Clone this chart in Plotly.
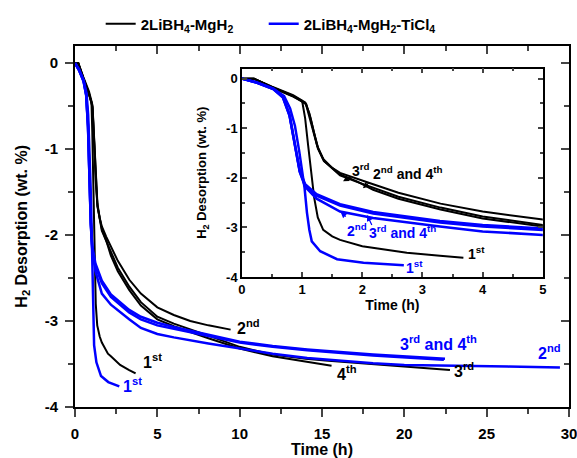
import plotly.graph_objects as go

# ---------------- data (time in h, H2 desorption in wt. %) ----------------
# 2LiBH4-MgH2 (black)
k1_t = [0, 0.2, 0.5, 0.85, 1.0, 1.05, 1.1, 1.15, 1.2, 1.26, 1.35, 1.5, 1.63, 2.0, 2.18, 2.74, 3.29, 3.68]
k1_y = [0, 0, -0.17, -0.35, -0.45, -0.8, -1.35, -1.9, -2.4, -2.8, -3.05, -3.18, -3.25, -3.38, -3.41, -3.51, -3.57, -3.61]

k2_t = [0, 0.2, 0.5, 0.85, 1.05, 1.12, 1.18, 1.25, 1.35, 1.5, 1.63, 1.9, 2.18, 2.6, 3.3, 4.0, 5.0, 6.0, 7.0, 8.1, 9.45]
k2_y = [0, 0, -0.16, -0.33, -0.48, -0.7, -1.0, -1.35, -1.62, -1.8, -1.9, -2.02, -2.13, -2.3, -2.52, -2.68, -2.84, -2.93, -3.0, -3.05, -3.1]

k3_t = [0, 0.2, 0.5, 0.85, 1.07, 1.14, 1.2, 1.27, 1.37, 1.63, 1.91, 2.18, 2.6, 3.3, 4.0, 5.0, 6.0, 8.1, 10.0, 12.0, 14.0, 15.2, 16.5, 18.1, 20.2, 22.77]
k3_y = [0, 0, -0.17, -0.35, -0.52, -0.8, -1.1, -1.42, -1.67, -1.95, -2.08, -2.2, -2.38, -2.6, -2.78, -2.95, -3.03, -3.17, -3.3, -3.39, -3.44, -3.46, -3.48, -3.5, -3.53, -3.57]

k4_t = [0, 0.2, 0.5, 0.85, 1.06, 1.13, 1.19, 1.26, 1.36, 1.63, 1.91, 2.18, 2.6, 3.3, 4.0, 5.0, 6.0, 8.1, 10.0, 12.0, 14.1, 15.58]
k4_y = [0, 0, -0.18, -0.36, -0.5, -0.8, -1.1, -1.4, -1.66, -1.93, -2.07, -2.24, -2.42, -2.64, -2.82, -2.98, -3.06, -3.2, -3.32, -3.41, -3.47, -3.52]

# 2LiBH4-MgH2-TiCl4 (blue)
b1_t = [0, 0.25, 0.52, 0.7, 0.8, 0.88, 0.95, 1.0, 1.04, 1.08, 1.12, 1.16, 1.3, 1.58, 2.02, 2.69]
b1_y = [0, -0.08, -0.2, -0.35, -0.6, -0.95, -1.45, -1.85, -2.2, -2.7, -3.05, -3.28, -3.48, -3.64, -3.71, -3.76]

b2_t = [0, 0.24, 0.52, 0.68, 0.79, 0.85, 0.91, 0.96, 1.05, 1.24, 1.63, 2.18, 3.29, 4.0, 5.0, 6.0, 8.1, 10.0, 12.0, 14.1, 16.0, 18.1, 20.0, 22.2, 26.3, 29.45]
b2_y = [0, -0.08, -0.21, -0.38, -0.75, -1.15, -1.55, -1.88, -2.18, -2.42, -2.68, -2.81, -2.98, -3.08, -3.15, -3.19, -3.26, -3.32, -3.38, -3.43, -3.46, -3.49, -3.51, -3.52, -3.53, -3.54]

b3_t = [0, 0.24, 0.52, 0.68, 0.79, 0.85, 0.91, 0.96, 1.05, 1.24, 1.63, 2.18, 3.29, 4.0, 5.0, 6.0, 8.1, 10.0, 12.0, 14.1, 18.1, 22.47]
b3_y = [0, -0.07, -0.2, -0.36, -0.72, -1.12, -1.52, -1.85, -2.13, -2.33, -2.53, -2.69, -2.87, -2.95, -3.02, -3.07, -3.16, -3.24, -3.29, -3.33, -3.39, -3.44]

b4_t = [0, 0.24, 0.52, 0.68, 0.79, 0.85, 0.91, 0.96, 1.05, 1.24, 1.63, 2.18, 3.29, 4.0, 5.0, 6.0, 8.1, 10.0, 12.0, 14.1, 18.1, 22.4]
b4_y = [0, -0.08, -0.21, -0.37, -0.74, -1.14, -1.54, -1.87, -2.16, -2.36, -2.56, -2.72, -2.9, -2.98, -3.05, -3.09, -3.18, -3.25, -3.3, -3.34, -3.4, -3.45]

series_black = [(k1_t, k1_y), (k2_t, k2_y), (k3_t, k3_y), (k4_t, k4_y)]
series_blue = [(b1_t, b1_y), (b2_t, b2_y), (b3_t, b3_y), (b4_t, b4_y)]

legend_names = ["2LiBH<sub>4</sub>-MgH<sub>2</sub>", "2LiBH<sub>4</sub>-MgH<sub>2</sub>-TiCl<sub>4</sub>"]
y_title = "H<sub>2</sub> Desorption (wt. %)"
x_title = "Time (h)"

main_x_ticks = [0, 5, 10, 15, 20, 25, 30]
main_y_ticks = [0, -1, -2, -3, -4]
main_y_text = ["0", "-1", "-2", "-3", "-4"]
inset_x_ticks = [0, 1, 2, 3, 4, 5]

BLACK = "#000000"
BLUE = "#0000FF"
FONT = "Arial, Liberation Sans, sans-serif"

fig = go.Figure()

for i, (t, y) in enumerate(series_black):
    fig.add_trace(go.Scatter(x=t, y=y, mode="lines", line=dict(color=BLACK, width=2),
                             name=legend_names[0], legend="legend", showlegend=(i == 0)))
for i, (t, y) in enumerate(series_blue):
    fig.add_trace(go.Scatter(x=t, y=y, mode="lines", line=dict(color=BLUE, width=2.5),
                             name=legend_names[1], legend="legend2", showlegend=(i == 0)))
# inset
for t, y in series_black:
    fig.add_trace(go.Scatter(x=t, y=y, mode="lines", line=dict(color=BLACK, width=2),
                             xaxis="x2", yaxis="y2", showlegend=False))
for t, y in series_blue:
    fig.add_trace(go.Scatter(x=t, y=y, mode="lines", line=dict(color=BLUE, width=2.5),
                             xaxis="x2", yaxis="y2", showlegend=False))
# dummy trace for the inward top/right tick axes of main frame
fig.add_trace(go.Scatter(x=[None], y=[None], xaxis="x3", yaxis="y3", showlegend=False, hoverinfo="skip"))

bold = dict(family=FONT, size=15, color="black", weight="bold")
bold_in = dict(family=FONT, size=13, color="black", weight="bold")
leg_font = dict(family=FONT, size=15, color="black", weight="bold")

fig.update_layout(
    width=577, height=458,
    margin=dict(l=75, r=8, t=43, b=51),
    paper_bgcolor="white", plot_bgcolor="white",
    font=dict(family=FONT, color="black"),
    showlegend=True,
    legend=dict(orientation="h", x=0.052, y=1.015, xanchor="left", yanchor="bottom",
                font=leg_font, bgcolor="rgba(0,0,0,0)", itemwidth=30),
    legend2=dict(orientation="h", x=0.382, y=1.015, xanchor="left", yanchor="bottom",
                 font=leg_font, bgcolor="rgba(0,0,0,0)", itemwidth=30),
    xaxis=dict(range=[0, 30], tickvals=main_x_ticks, ticks="outside", ticklen=8, tickwidth=2, automargin=False,
               showline=True, linewidth=2, linecolor="black", mirror=True, showgrid=False, zeroline=False,
               tickfont=bold, ticklabelstandoff=4, ticklabeloverflow="allow",
               minor=dict(dtick=2.5, ticks="outside", ticklen=5, tickwidth=2, showgrid=False),
               title=dict(text=x_title, font=dict(family=FONT, size=16, color="black", weight="bold"), standoff=3),
               domain=[0, 1], anchor="y"),
    yaxis=dict(range=[-4, 0.2], tickvals=main_y_ticks, ticktext=main_y_text, ticks="outside", ticklen=8, tickwidth=2,
               showline=True, linewidth=2, linecolor="black", mirror=True, showgrid=False, zeroline=False,
               tickfont=bold, ticklabelstandoff=4, automargin=False,
               minor=dict(dtick=0.5, ticks="outside", ticklen=5, tickwidth=2, showgrid=False),
               domain=[0, 1], anchor="x"),
    xaxis3=dict(range=[0, 30], overlaying="x", side="top", anchor="y3", tickvals=main_x_ticks, ticks="inside",
                ticklen=8, tickwidth=2, showticklabels=False, showline=False, showgrid=False, zeroline=False,
                automargin=False,
                minor=dict(dtick=2.5, ticks="inside", ticklen=5, tickwidth=2, showgrid=False)),
    yaxis3=dict(range=[-4, 0.2], overlaying="y", side="right", anchor="x3", tickvals=main_y_ticks, ticks="inside",
                ticklen=8, tickwidth=2, showticklabels=False, showline=False, showgrid=False, zeroline=False,
                automargin=False,
                minor=dict(dtick=0.5, ticks="inside", ticklen=5, tickwidth=2, showgrid=False)),
    xaxis2=dict(range=[0, 5], tickvals=inset_x_ticks, domain=[0.338, 0.947], anchor="y2", ticks="inside", ticklen=5,
                tickwidth=1.5, showline=True, linewidth=1.5, linecolor="black", mirror="ticks", showgrid=False,
                zeroline=False, tickfont=bold_in, automargin=False,
                minor=dict(dtick=0.5, ticks="inside", ticklen=3, tickwidth=1.5, showgrid=False),
                title=dict(text=x_title, font=dict(family=FONT, size=14, color="black", weight="bold"), standoff=2)),
    yaxis2=dict(range=[-4, 0.2], tickvals=main_y_ticks, ticktext=main_y_text, domain=[0.360, 0.937], anchor="x2",
                ticks="inside", ticklen=5, tickwidth=1.5, showline=True, linewidth=1.5, linecolor="black",
                mirror="ticks", showgrid=False, zeroline=False, tickfont=bold_in, automargin=False,
                minor=dict(dtick=0.5, ticks="inside", ticklen=3, tickwidth=1.5, showgrid=False)),
)

# y-axis titles (rotated), placed like the reference
fig.add_annotation(text=y_title, xref="paper", yref="paper", x=-0.107, y=0.5, textangle=-90,
                   showarrow=False, xanchor="center", yanchor="middle",
                   font=dict(family=FONT, size=16, color="black", weight="bold"))
fig.add_annotation(text=y_title, xref="paper", yref="paper", x=0.259, y=0.6485, textangle=-90,
                   showarrow=False, xanchor="center", yanchor="middle",
                   font=dict(family=FONT, size=13, color="black", weight="bold"))

def label(text, x, y, color, size, xref="x", yref="y"):
    fig.add_annotation(text=text, x=x, y=y, xref=xref, yref=yref, showarrow=False, xanchor="left",
                       yanchor="middle", font=dict(family=FONT, size=size, color=color, weight="bold"))

def arrow(x0, y0, x1, y1, color):
    fig.add_annotation(text="", x=x1, y=y1, ax=x0, ay=y0, xref="x2", yref="y2", axref="x2", ayref="y2",
                       showarrow=True, arrowhead=2, arrowsize=1, arrowwidth=1.2, arrowcolor=color)

# main labels
label("2<sup>nd</sup>", 9.7, -3.07, BLACK, 16)
label("1<sup>st</sup>", 4.0, -3.46, BLACK, 16)
label("1<sup>st</sup>", 2.8, -3.74, BLUE, 16)
label("4<sup>th</sup>", 15.8, -3.61, BLACK, 16)
label("3<sup>rd</sup>", 22.9, -3.57, BLACK, 16)
label("3<sup>rd</sup> and 4<sup>th</sup>", 19.6, -3.26, BLUE, 16)
label("2<sup>nd</sup>", 28.0, -3.36, BLUE, 16)

# inset labels
label("3<sup>rd</sup>", 1.8, -1.84, BLACK, 14, "x2", "y2")
label("2<sup>nd</sup> and 4<sup>th</sup>", 2.14, -1.9, BLACK, 14, "x2", "y2")
label("1<sup>st</sup>", 3.72, -3.52, BLACK, 14, "x2", "y2")
label("2<sup>nd</sup>", 1.72, -3.06, BLUE, 14, "x2", "y2")
label("3<sup>rd</sup> and 4<sup>th</sup>", 2.08, -3.1, BLUE, 14, "x2", "y2")
label("1<sup>st</sup>", 2.69, -3.8, BLUE, 14, "x2", "y2")
arrow(1.84, -1.96, 1.68, -2.07, BLACK)
arrow(2.13, -2.08, 2.01, -2.21, BLACK)
arrow(1.75, -2.81, 1.64, -2.69, BLUE)
arrow(2.17, -2.98, 2.08, -2.75, BLUE)

fig.write_html("out.html")
